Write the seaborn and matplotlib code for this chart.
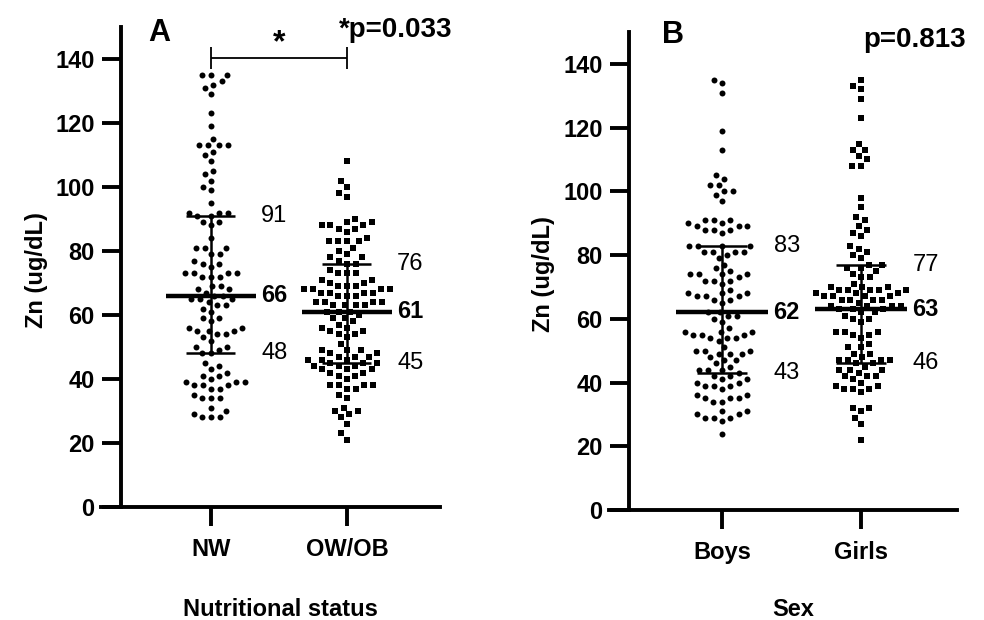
import numpy as np
import pandas as pd
import matplotlib
matplotlib.use('Agg')
import matplotlib.pyplot as plt
import seaborn as sns

# Zn values (ug/dL)
nw = [135, 135, 135, 133, 132, 131, 129,
      123, 119, 115, 113, 113, 113, 113, 111, 110, 108, 105, 104, 102, 100, 99, 95,
      92, 92, 91, 91, 92, 89, 89, 88, 84, 81, 81, 81, 79, 79,
      76, 77, 76, 75, 73, 73, 73, 73, 72, 72, 72, 69, 69, 68, 68,
      67, 66, 66, 65, 65, 65, 64, 63, 63, 62, 61, 59, 59, 58, 56, 56, 55, 55, 55,
      54, 54, 53, 52, 50, 50, 49, 48, 48,
      45, 44, 43, 42, 41, 41, 40, 39, 39, 39, 38, 38, 38, 37, 37, 35, 34, 34, 34,
      31, 30, 29, 28, 28, 28]
owob = [108, 102, 100, 98, 97,
        90, 89, 89, 88, 88, 88, 87, 87, 86, 84, 83, 83, 83, 83, 81, 80,
        79, 78, 78, 77, 76, 76, 74, 73, 73, 73, 71, 71, 70, 70, 69, 69, 69,
        68, 68, 68, 68, 67, 67, 67, 67, 66, 66, 66, 64, 64, 64, 64, 63, 63, 63, 63,
        61, 61, 61, 60, 59, 59, 58, 57, 56, 56, 55, 55, 54, 54, 53, 51, 49, 49, 49,
        48, 48, 47, 47, 47, 46, 46, 46, 45, 45, 45, 44, 44, 44, 43, 43, 43, 42,
        42, 41, 41, 40, 38, 38, 38, 38, 37, 37, 35, 34, 31, 30, 30, 29, 28, 26, 23, 21]
boys = [135, 134, 131, 119, 113, 105, 104, 102, 102, 100, 100, 99, 97,
        91, 91, 91, 90, 90, 89, 89, 89, 88, 88, 88, 87,
        83, 83, 83, 83, 81, 81, 81, 81, 80, 79, 77, 76,
        74, 74, 74, 74, 75, 73, 72, 72, 72, 71,
        68, 68, 68, 69, 67, 67, 67, 66, 66, 65,
        62, 62, 61, 61, 60, 59, 56, 56, 56, 57, 55, 55, 55, 54, 54, 54, 53,
        50, 50, 50, 51, 49, 49, 49, 48, 47, 47, 46,
        44, 44, 44, 45, 43, 42, 42, 41, 41, 40, 40, 39, 39, 39, 38,
        36, 36, 35, 35, 35, 34, 34, 31, 31, 30, 30, 29, 29, 29, 28, 24]
girls = [135, 133, 132, 129, 123, 115, 113, 113, 111, 110, 108, 108,
         98, 95, 92, 91, 89, 88, 87, 86, 83, 82, 81, 80, 79,
         77, 77, 76, 76, 75, 74, 73, 73, 71, 70, 70, 69,
         70, 69, 69, 69, 69, 68, 68, 68, 67, 67, 67, 67, 66, 66, 66, 65, 66,
         64, 64, 64, 64, 63, 63, 63, 62, 62, 61, 60, 60, 59,
         56, 56, 56, 55, 55, 54, 52, 51, 51, 49, 49,
         47, 47, 47, 47, 48, 46, 46, 45, 44, 44, 44, 43, 42, 42, 42, 41,
         40, 39, 39, 38, 38, 38, 37, 32, 32, 31, 29, 27, 22]

groups_a = ['NW', 'OW/OB']
groups_b = ['Boys', 'Girls']
# (Q1, median, Q3) as labelled on the chart
q1_a, med_a, q3_a = [48, 45], [66, 61], [91, 76]
q1_b, med_b, q3_b = [43, 46], [62, 63], [83, 77]
markers = ['o', 's']
dot_size = {'o': 4.3, 's': 4.4}

df_a = pd.DataFrame({'group': ['NW'] * len(nw) + ['OW/OB'] * len(owob), 'zn': nw + owob})
df_b = pd.DataFrame({'group': ['Boys'] * len(boys) + ['Girls'] * len(girls), 'zn': boys + girls})

sns.set_style('ticks')
plt.rcParams['font.family'] = ['Liberation Sans', 'DejaVu Sans']
plt.rcParams['font.weight'] = 'bold'
plt.rcParams['axes.labelweight'] = 'bold'
for key in ['text.color', 'axes.labelcolor', 'xtick.color', 'ytick.color', 'axes.edgecolor']:
    plt.rcParams[key] = 'black'

fig = plt.figure(figsize=(9.84, 6.2), dpi=100)
ax_a = fig.add_axes([0.1026, 0.1823, 0.3445, 0.774])
ax_b = fig.add_axes([0.619, 0.1774, 0.3537, 0.771])

panels = [
    (ax_a, df_a, groups_a, q1_a, med_a, q3_a, 'Nutritional status', (-0.809, 1.684), -0.662),
    (ax_b, df_b, groups_b, q1_b, med_b, q3_b, 'Sex', (-0.813, 1.691), -0.669),
]

swarms = []
for ax, df, groups, q1, med, q3, xlab, xl, spine_x in panels:
    for grp, mk in zip(groups, markers):
        n0 = len(ax.collections)
        sns.swarmplot(data=df[df.group == grp], x='group', y='zn', order=groups,
                      marker=mk, color='black', size=6.1, ax=ax)
        swarms += [(c, mk) for c in ax.collections[n0:]]
    ax.set_xlim(*xl)
    ax.set_ylim(0, 150)
    ax.set_yticks(range(0, 141, 20))
    ax.spines['left'].set_position(('data', spine_x))
    ax.spines['top'].set_visible(False)
    ax.spines['right'].set_visible(False)
    for s in ['left', 'bottom']:
        ax.spines[s].set_linewidth(2.8)
    ax.tick_params(axis='both', length=14, width=2.8, labelsize=17)
    ax.tick_params(axis='y', pad=5)
    ax.tick_params(axis='x', pad=8)
    ax.set_ylabel('Zn (ug/dL)', fontsize=17)
    ax.set_xlabel(xlab, fontsize=17)

    pos = np.arange(len(groups))
    ax.hlines(med, pos - 0.33, pos + 0.33, color='black', lw=3.2, zorder=4)
    ax.vlines(pos, q1, q3, color='black', lw=1.8, zorder=4)
    ax.hlines(q1, pos - 0.18, pos + 0.18, color='black', lw=1.8, zorder=4)
    ax.hlines(q3, pos - 0.18, pos + 0.18, color='black', lw=1.8, zorder=4)
    for i in pos:
        ax.text(i + 0.37, q3[i], str(q3[i]), fontsize=17, fontweight='normal', va='center', ha='left')
        ax.text(i + 0.37, med[i], str(med[i]), fontsize=17, fontweight='bold', va='center', ha='left')
        ax.text(i + 0.37, q1[i], str(q1[i]), fontsize=17, fontweight='normal', va='center', ha='left')

ax_a.yaxis.set_label_coords(-0.156, 0.494)
ax_b.yaxis.set_label_coords(-0.155, 0.494)
ax_a.xaxis.set_label_coords(0.528, -0.19)
ax_b.xaxis.set_label_coords(0.529, -0.184)

# significance bracket in panel A
ax_a.hlines(140.3, 0, 1, color='black', lw=1.3, clip_on=False)
ax_a.vlines([0, 1], 137, 143.8, color='black', lw=1.3, clip_on=False)
ax_a.text(0.5, 145, '*', fontsize=23, ha='center', va='center')
ax_a.text(0.702, 0.994, '*p=0.033', transform=ax_a.transAxes, fontsize=20,
          ha='left', va='center', clip_on=False)
ax_b.text(0.730, 0.983, 'p=0.813', transform=ax_b.transAxes, fontsize=20,
          ha='left', va='center', clip_on=False)
ax_a.text(0.139, 0.9875, 'A', transform=ax_a.transAxes, fontsize=22, ha='left', va='center')
ax_b.text(0.152, 0.994, 'B', transform=ax_b.transAxes, fontsize=22, ha='left', va='center')

# lay out the swarm with wide spacing, then shrink the dots to their drawn size
fig.canvas.draw()
for coll, mk in swarms:
    if 'draw' in coll.__dict__:
        del coll.draw
    coll.set_sizes([dot_size[mk] ** 2])

fig.savefig('out.png', dpi=100)
